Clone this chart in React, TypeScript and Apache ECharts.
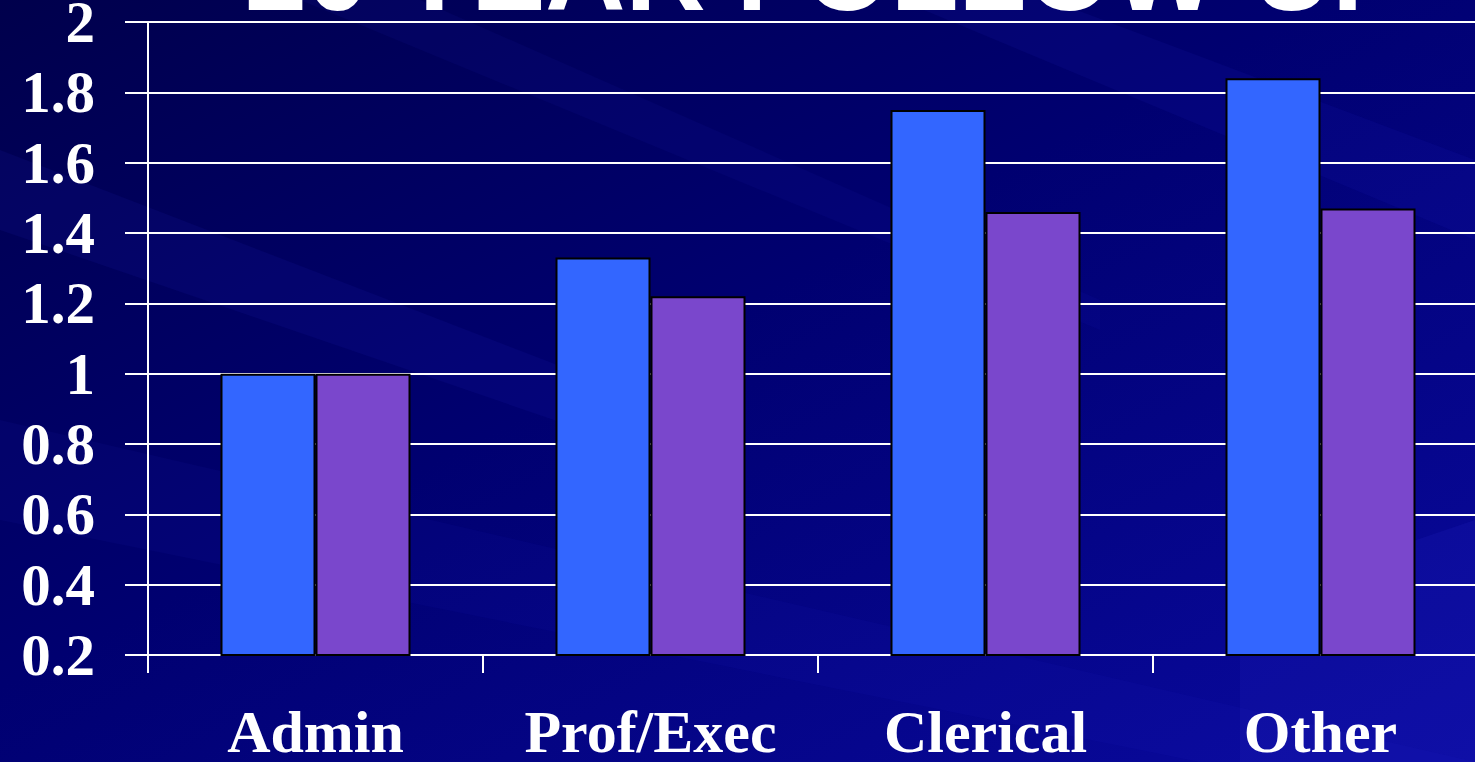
import React, { useEffect, useRef } from "react";
import * as echarts from "echarts";

// Occupational groups on the category axis
const categories = ["Admin", "Prof/Exec", "Clerical", "Other"];
// Relative risk values, two series per group
const seriesA = [1.0, 1.33, 1.75, 1.84];
const seriesB = [1.0, 1.22, 1.46, 1.47];
const yTicks = { min: 0.2, max: 2, step: 0.2 };
const titleText = "20 YEAR FOLLOW-UP";

export default function App() {
  const ref = useRef<HTMLDivElement>(null);

  useEffect(() => {
    document.body.style.margin = "0";
    const chart = echarts.init(ref.current!, null, { renderer: "svg" });

    const serif = "'Liberation Serif', 'Times New Roman', serif";
    const streak = (pts: number[][], opacity: number) => ({
      type: "polygon",
      silent: true,
      z: -10,
      shape: { points: pts },
      style: { fill: "#2a2ad0", opacity },
    });

    chart.setOption({
      animation: false,
      backgroundColor: new echarts.graphic.LinearGradient(0, 0, 1, 1, [
        { offset: 0, color: "#00004c" },
        { offset: 0.45, color: "#000070" },
        { offset: 1, color: "#0a0aa0" },
      ]),
      graphic: [
        streak([[0, 150], [700, 420], [700, 470], [0, 230]], 0.1),
        streak([[300, 0], [1100, 330], [1100, 300], [420, 0]], 0.08),
        streak([[900, 0], [1475, 240], [1475, 160], [1050, 0]], 0.1),
        streak([[1240, 600], [1475, 520], [1475, 762], [1240, 762]], 0.16),
        streak([[0, 420], [1475, 762], [1200, 762], [0, 520]], 0.07),
        {
          type: "text",
          z: 10,
          left: 245,
          top: -84,
          style: {
            text: titleText,
            fill: "#ffffff",
            font: "bold 111px 'Liberation Sans', Arial, sans-serif",
            textShadowColor: "#000000",
            textShadowOffsetX: 4,
            textShadowOffsetY: 4,
            textShadowBlur: 0,
          },
        },
      ],
      grid: {
        left: 148,
        top: 22,
        bottom: 107,
        width: 1340,
        containLabel: false,
        outerBoundsMode: "none",
      },
      xAxis: {
        type: "category",
        data: categories,
        boundaryGap: true,
        axisLine: { show: true, lineStyle: { color: "#ffffff", width: 2 } },
        axisTick: { show: true, length: 18, lineStyle: { color: "#ffffff", width: 2 } },
        axisLabel: {
          color: "#ffffff",
          fontFamily: serif,
          fontWeight: "bold",
          fontSize: 60,
          margin: 47,
        },
        splitLine: { show: false },
      },
      yAxis: {
        type: "value",
        min: yTicks.min,
        max: yTicks.max,
        interval: yTicks.step,
        axisLine: { show: true, lineStyle: { color: "#ffffff", width: 2 } },
        axisTick: { show: true, length: 23, lineStyle: { color: "#ffffff", width: 2 } },
        axisLabel: {
          color: "#ffffff",
          fontFamily: serif,
          fontWeight: "bold",
          fontSize: 59,
          margin: 53,
          formatter: (v: number) => String(Math.round(v * 10) / 10),
        },
        splitLine: { show: true, lineStyle: { color: "#ffffff", width: 2 } },
      },
      series: [
        {
          type: "bar",
          data: seriesA,
          barWidth: 95,
          barGap: "0%",
          itemStyle: { color: "#3366ff", borderColor: "#000000", borderWidth: 2 },
        },
        {
          type: "bar",
          data: seriesB,
          barWidth: 95,
          barGap: "0%",
          itemStyle: { color: "#7a47cc", borderColor: "#000000", borderWidth: 2 },
        },
      ],
    });

    return () => chart.dispose();
  }, []);

  return (
    <div
      ref={ref}
      style={{ position: "absolute", left: 0, top: 0, width: 1475, height: 762 }}
    />
  );
}
